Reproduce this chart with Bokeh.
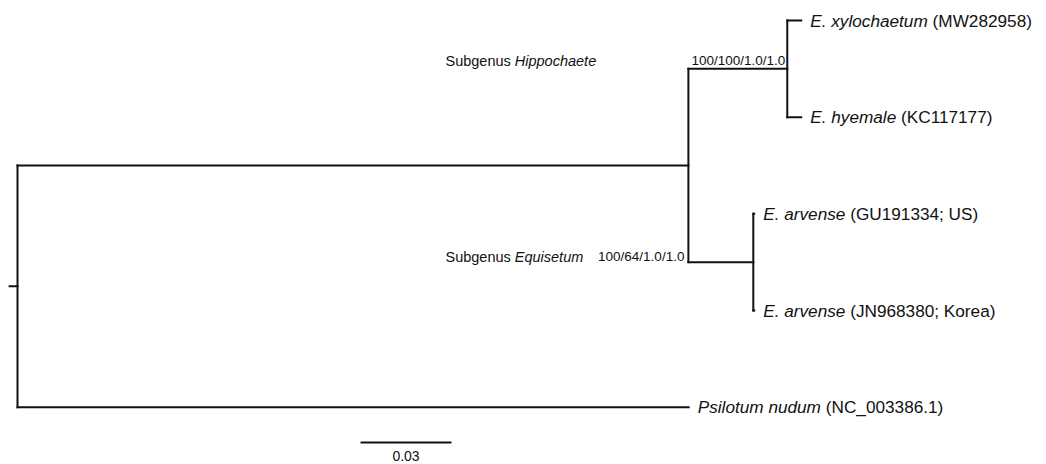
from bokeh.plotting import figure
from bokeh.models import Range1d, ColumnDataSource
from bokeh.core.properties import value
from bokeh.embed import file_html
from bokeh.resources import INLINE

# ---------------- data ----------------
node_names = ["root", "Equisetum_all", "Hippochaete", "Equisetum_subg",
              "xylochaetum", "hyemale", "arvense_US", "arvense_KR", "Psilotum"]
node_parents = [None, "root", "Equisetum_all", "Equisetum_all",
                "Hippochaete", "Hippochaete", "Equisetum_subg", "Equisetum_subg", "root"]
branch_lengths = [0.0026, 0.2212, 0.0326, 0.0214, 0.0046, 0.0046, 0.0003, 0.0003, 0.2213]

tip_nodes = ["xylochaetum", "hyemale", "arvense_US", "arvense_KR", "Psilotum"]
tip_species = ["E. xylochaetum", "E. hyemale", "E. arvense", "E. arvense", "Psilotum nudum"]
tip_accessions = ["(MW282958)", "(KC117177)", "(GU191334; US)", "(JN968380; Korea)", "(NC_003386.1)"]

support_nodes = ["Hippochaete", "Equisetum_subg"]
support_values = ["100/100/1.0/1.0", "100/64/1.0/1.0"]
subgenus_names = ["Hippochaete", "Equisetum"]

scale_value = 0.03
scale_label = "0.03"

# ---------------- layout constants ----------------
W, H = 1046, 464
PX_PER_UNIT = 3033.0
ROW_PX = 96.67
ROOT_PX = 17.0
TOP_PX = 20.0
SUBGENUS_X = 0.1411
SCALE_X0 = 0.1131
SCALE_Y = 4.365
FONT = "Liberation Sans"
SUP_ANCHOR = ["node", "parent"]   # where each support label is right-aligned
SUP_DX = [-2, -4]
SUP_DY = [-8, -5.5]

# Arial / Liberation Sans advance widths (per 1000 em)
_W = {' ': 278, '(': 333, ')': 333, '.': 278, '/': 278, '_': 556, ';': 278}
for ch in "0123456789":
    _W[ch] = 556
_W.update(dict(zip("ABCDEFGHIJKLMNOPQRSTUVWXYZ",
                   [667, 667, 722, 722, 667, 611, 778, 722, 278, 500, 667, 556, 833,
                    722, 778, 667, 778, 722, 667, 611, 722, 667, 944, 667, 667, 611])))
_W.update(dict(zip("abcdefghijklmnopqrstuvwxyz",
                   [556, 556, 500, 556, 556, 278, 556, 556, 222, 222, 500, 222, 833,
                    556, 556, 556, 556, 333, 500, 278, 556, 500, 722, 500, 500, 500])))


def text_w(s, size):
    return sum(_W.get(c, 556) for c in s) * size / 1000.0


# ---------------- tree layout ----------------
idx = {n: i for i, n in enumerate(node_names)}
parent_of = dict(zip(node_names, node_parents))
children = {n: [] for n in node_names}
for n, par in zip(node_names, node_parents):
    if par:
        children[par].append(n)

xpos = {}


def set_x(n, x):
    xpos[n] = x
    for c in children[n]:
        set_x(c, x + branch_lengths[idx[c]])


set_x("root", 0.0)

ypos = {t: float(i) for i, t in enumerate(tip_nodes)}


def set_y(n):
    if n in ypos:
        return ypos[n]
    ys = [set_y(c) for c in children[n]]
    ypos[n] = (min(ys) + max(ys)) / 2.0
    return ypos[n]


set_y("root")

x0s, y0s, x1s, y1s = [], [], [], []
# root stem
x0s.append(-branch_lengths[idx["root"]]); x1s.append(0.0)
y0s.append(ypos["root"]); y1s.append(ypos["root"])
for n, par in zip(node_names, node_parents):
    if par:
        x0s.append(xpos[par]); x1s.append(xpos[n])
        y0s.append(ypos[n]); y1s.append(ypos[n])
    if children[n]:
        cy = [ypos[c] for c in children[n]]
        x0s.append(xpos[n]); x1s.append(xpos[n])
        y0s.append(min(cy)); y1s.append(max(cy))

p = figure(width=W, height=H, output_backend="svg", toolbar_location=None,
           x_axis_location=None, y_axis_location=None, min_border=0,
           x_range=Range1d(-ROOT_PX / PX_PER_UNIT, (W - ROOT_PX) / PX_PER_UNIT),
           y_range=Range1d((H - TOP_PX) / ROW_PX, -TOP_PX / ROW_PX))
p.outline_line_color = None
p.grid.visible = False
p.background_fill_color = "white"
p.border_fill_color = "white"

p.segment(x0=x0s, y0=y0s, x1=x1s, y1=y1s, line_color="#111111", line_width=2,
          line_cap="square")

# tip labels
TIP_SIZE = 17.2
tip_x = [xpos[t] for t in tip_nodes]
tip_y = [ypos[t] for t in tip_nodes]
src_sp = ColumnDataSource(dict(x=tip_x, y=tip_y, t=tip_species,
                               off=[9.0] * len(tip_nodes)))
p.text(x="x", y="y", text="t", x_offset="off", source=src_sp,
       text_font=value(FONT), text_font_style="italic",
       text_font_size=f"{TIP_SIZE}px", text_baseline="middle", text_align="left",
       text_color="#111111")
src_acc = ColumnDataSource(dict(x=tip_x, y=tip_y, t=tip_accessions,
                                off=[9.0 + text_w(s + " ", TIP_SIZE) for s in tip_species]))
p.text(x="x", y="y", text="t", x_offset="off", source=src_acc,
       text_font=value(FONT), text_font_size=f"{TIP_SIZE}px",
       text_baseline="middle", text_align="left", text_color="#111111")

# support values
SUP_SIZE = 13.5
sup_x = [xpos[n] if a == "node" else xpos[parent_of[n]]
         for n, a in zip(support_nodes, SUP_ANCHOR)]
sup_y = [ypos[n] for n in support_nodes]
p.text(x=sup_x, y=sup_y, text=support_values, x_offset=SUP_DX, y_offset=SUP_DY,
       text_font=value(FONT), text_font_size=f"{SUP_SIZE}px",
       text_baseline="middle", text_align="right", text_color="#111111")

# subgenus labels
SUB_SIZE = 14.5
pre = "Subgenus "
p.text(x=[SUBGENUS_X] * 2, y=sup_y, text=[pre] * 2, y_offset=SUP_DY,
       text_font=value(FONT), text_font_size=f"{SUB_SIZE}px",
       text_baseline="middle", text_align="left", text_color="#111111")
p.text(x=[SUBGENUS_X] * 2, y=sup_y, text=subgenus_names, y_offset=SUP_DY,
       x_offset=[text_w(pre, SUB_SIZE)] * 2,
       text_font=value(FONT), text_font_style="italic", text_font_size=f"{SUB_SIZE}px",
       text_baseline="middle", text_align="left", text_color="#111111")

# scale bar
p.segment(x0=[SCALE_X0], y0=[SCALE_Y], x1=[SCALE_X0 + scale_value], y1=[SCALE_Y],
          line_color="#111111", line_width=2)
p.text(x=[SCALE_X0 + scale_value / 2], y=[SCALE_Y], text=[scale_label], y_offset=[14],
       text_font=value(FONT), text_font_size="14px", text_baseline="middle",
       text_align="center", text_color="#111111")

open("out.html", "w").write(file_html(p, INLINE))
